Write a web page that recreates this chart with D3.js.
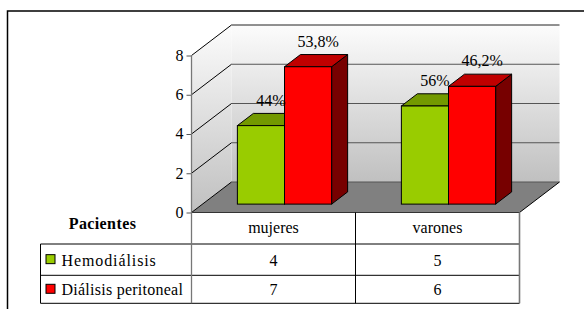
<!DOCTYPE html>
<html><head><meta charset="utf-8">
<script src="https://cdn.jsdelivr.net/npm/d3@7"></script>
<style>html,body{margin:0;padding:0;background:#fff;}svg{display:block;}</style>
</head><body>
<svg id="c" width="584" height="309"></svg>
<script>
// ---- data ----
const categories = ["mujeres", "varones"];
const seriesNames = ["Hemodiálisis", "Diálisis peritoneal"];
const hemodialisis = [4, 5];
const dialisisPeritoneal = [7, 6];
const pctLabels = [["44%", "56%"], ["53,8%", "46,2%"]];
const yTicks = [0, 2, 4, 6, 8];
const tableTitle = "Pacientes";

// ---- layout ----
const svg = d3.select("#c");
const FONT = "Liberation Serif";
const plotL = 191.5, plotR = 519.5;
const dX = 40, dY = -30.5;            // depth vector (front -> back wall)
const y = d3.scaleLinear().domain([0, 8]).range([212.5, 55.5]);
const x = d3.scaleBand().domain(categories).range([plotL, plotR]);
const xs = d3.scaleBand().domain(seriesNames).range([0, x.bandwidth()]).paddingOuter(0.74);
const zFront = 0.275, zDepth = 0.4;
const P = (px, py, z) => [px + z * dX, py + z * dY];

const colors = [
  {front: "#99CC00", top: "#739900", side: "#5c7a00"},
  {front: "#FF0000", top: "#C00000", side: "#770000"}
];
const values = [hemodialisis, dialisisPeritoneal];

function txt(sel) {
  sel.style("font-family", FONT).style("font-size", "16px").style("fill", "#000");
}

// gradients
const defs = svg.append("defs");
const g1 = defs.append("linearGradient").attr("id", "wall").attr("x1", 0).attr("y1", 0).attr("x2", 0).attr("y2", 1);
g1.append("stop").attr("offset", "0%").attr("stop-color", "#fcfcfc");
g1.append("stop").attr("offset", "100%").attr("stop-color", "#c0c0c0");

// outer frame
svg.append("path").attr("d", "M7.5,320 V11 H600").attr("fill", "none").attr("stroke", "#000").attr("stroke-width", 1.5);

const line = d3.line();
const bwTop = y(8) + dY, bwBot = y(0) + dY;
svg.append("rect").attr("x", plotL + dX).attr("y", bwTop).attr("width", plotR - plotL).attr("height", bwBot - bwTop).attr("fill", "url(#wall)");
svg.append("path").attr("d", line([[plotL, y(0)], P(plotL, y(0), 1), P(plotL, y(8), 1), [plotL, y(8)]]) + "Z").attr("fill", "url(#wall)");
svg.append("path").attr("d", line([[plotL, y(0)], [plotR, y(0)], P(plotR, y(0), 1), P(plotL, y(0), 1)]) + "Z").attr("fill", "#808080");
yTicks.forEach(t => {
  svg.append("line").attr("x1", plotL + dX).attr("x2", plotR + dX).attr("y1", y(t) + dY).attr("y2", y(t) + dY)
    .attr("stroke", t === 8 ? "#222" : "#555").attr("stroke-width", 1);
  svg.append("line").attr("x1", plotL).attr("y1", y(t)).attr("x2", plotL + dX).attr("y2", y(t) + dY)
    .attr("stroke", "#000").attr("stroke-width", 1);
});
svg.append("line").attr("x1", plotR).attr("y1", y(0)).attr("x2", plotR + dX).attr("y2", y(0) + dY).attr("stroke", "#000");

// y axis
const axisG = svg.append("g").attr("transform", `translate(${plotL},0)`)
  .call(d3.axisLeft(y).tickValues(yTicks).tickSize(5).tickPadding(3).tickFormat(d3.format("d")));
axisG.attr("font-family", null).attr("font-size", null);
axisG.select(".domain").remove();
axisG.selectAll(".tick line").attr("stroke", "#555");
axisG.selectAll("text").call(txt).attr("dy", "0.3em");

// bars
categories.forEach((cat, ci) => {
  seriesNames.forEach((s, si) => {
    const v = values[si][ci];
    const bx = x(cat) + xs(s), bw = xs.bandwidth();
    const yb = y(0), yt = y(v);
    const fz = zFront, bz = zFront + zDepth;
    const c = colors[si];
    svg.append("path").attr("d", line([P(bx + bw, yt, fz), P(bx + bw, yt, bz), P(bx + bw, yb, bz), P(bx + bw, yb, fz)]) + "Z")
      .attr("fill", c.side).attr("stroke", "#000").attr("stroke-width", 1).attr("stroke-linejoin", "round");
    svg.append("path").attr("d", line([P(bx, yt, fz), P(bx + bw, yt, fz), P(bx + bw, yt, bz), P(bx, yt, bz)]) + "Z")
      .attr("fill", c.top).attr("stroke", "#000").attr("stroke-width", 1).attr("stroke-linejoin", "round");
    const f0 = P(bx, yt, fz);
    svg.append("rect").attr("x", f0[0]).attr("y", f0[1]).attr("width", bw).attr("height", yb - yt)
      .attr("fill", c.front).attr("stroke", "#000").attr("stroke-width", 1);
  });
});
// percentage labels
categories.forEach((cat, ci) => {
  seriesNames.forEach((s, si) => {
    const v = values[si][ci];
    const bx = x(cat) + xs(s), bw = xs.bandwidth();
    const p = P(bx + bw / 2, y(v), zFront + zDepth / 2);
    svg.append("text").attr("x", p[0] + 2).attr("y", p[1] - 14).attr("text-anchor", "middle")
      .call(txt).text(pctLabels[si][ci]);
  });
});

// data table
const tblL = 40.5, hdrB = 244, rowH = [31.3, 28];
const rowTops = [hdrB, hdrB + rowH[0]];
const tblB = hdrB + rowH[0] + rowH[1];
categories.forEach(cat => {
  svg.append("text").attr("x", x(cat) + x.bandwidth() / 2).attr("y", 233).attr("text-anchor", "middle")
    .call(txt).text(cat);
});
svg.append("text").attr("x", tblL + 62).attr("y", 229).attr("text-anchor", "middle")
  .call(txt).style("font-weight", "bold").style("letter-spacing", "0.4px").text(tableTitle);
seriesNames.forEach((s, si) => {
  const top = rowTops[si], h = rowH[si];
  svg.append("rect").attr("x", tblL + 5.5).attr("y", top + h / 2 - 5).attr("width", 9).attr("height", 9)
    .attr("fill", colors[si].front).attr("stroke", "#000").attr("stroke-width", 1);
  svg.append("text").attr("x", tblL + 21).attr("y", top + h / 2 + 6).call(txt)
    .style("letter-spacing", si === 0 ? "0.9px" : "0.25px").text(s);
  categories.forEach((cat, ci) => {
    svg.append("text").attr("x", x(cat) + x.bandwidth() / 2).attr("y", top + h / 2 + 6).attr("text-anchor", "middle")
      .call(txt).text(values[si][ci]);
  });
});
// table lines
const hl = (x1, x2, yy, col) => svg.append("line").attr("x1", x1).attr("x2", x2).attr("y1", yy).attr("y2", yy).attr("stroke", col).attr("stroke-width", 1);
const vl = (xx, y1, y2, col, w) => svg.append("line").attr("x1", xx).attr("x2", xx).attr("y1", y1).attr("y2", y2).attr("stroke", col).attr("stroke-width", w || 1);
hl(plotL, plotR, y(0), "#333");
hl(tblL, plotR, hdrB, "#000");
hl(tblL, plotR, rowTops[1], "#000");
hl(tblL, plotR, tblB, "#000");
vl(tblL, hdrB, tblB, "#000");
vl(plotL, y(8), tblB, "#777", 1.3);
vl(x(categories[1]), y(0), tblB, "#000");
vl(plotR, y(0), tblB, "#777", 1.6);
</script>
</body></html>
